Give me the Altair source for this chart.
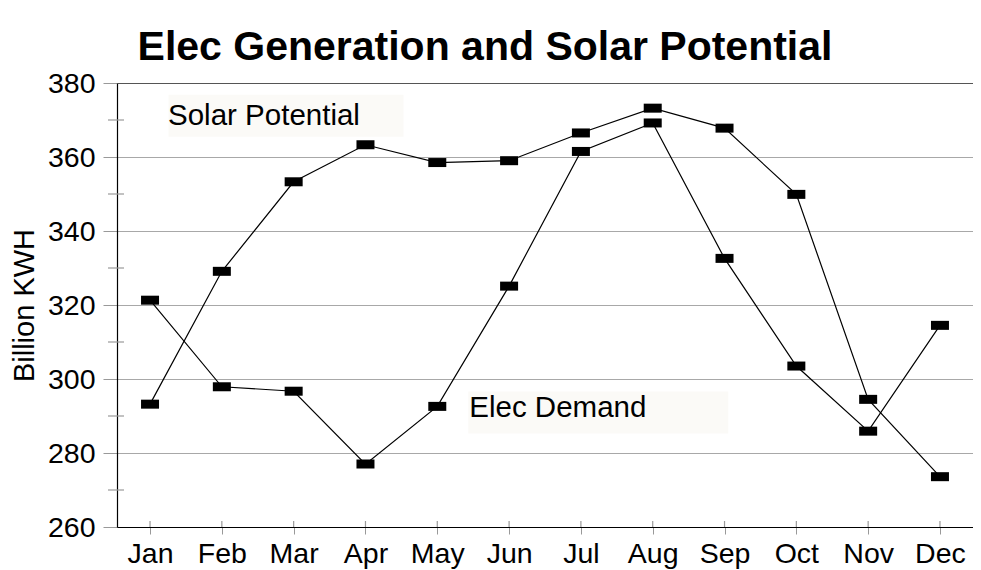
import altair as alt
import pandas as pd

months = ["Jan", "Feb", "Mar", "Apr", "May", "Jun", "Jul", "Aug", "Sep", "Oct", "Nov", "Dec"]
solar_potential = [293.2, 329.1, 353.3, 363.3, 358.5, 359.0, 366.5, 373.2, 367.8, 349.9, 294.5, 273.6]
elec_demand = [321.3, 297.9, 296.7, 277.0, 292.6, 325.1, 361.5, 369.2, 332.6, 303.5, 285.9, 314.5]

y_major = [260, 280, 300, 320, 340, 360, 380]
y_minor = [270, 290, 310, 330, 350, 370]

label_names = ["Solar Potential", "Elec Demand"]
label_months = ["Jan", "May"]
label_values = [368.7, 289.6]

FONT = "Liberation Sans, Arial, sans-serif"

rows = []
for m, s, d in zip(months, solar_potential, elec_demand):
    rows.append({"month": m, "series": "Solar Potential", "value": s})
    rows.append({"month": m, "series": "Elec Demand", "value": d})
df = pd.DataFrame(rows)

W, H = 856, 444
xscale = alt.Scale(type="point", domain=months, padding=0.46)
yscale = alt.Scale(domain=[260, 380], nice=False, zero=False)

x_enc = alt.X(
    "month:N", sort=months, scale=xscale,
    axis=alt.Axis(
        title=None, labelFont=FONT, labelFontSize=28.5, labelColor="black",
        labelAngle=0, labelAlign="center", labelPadding=19, tickSize=7, tickColor="#999999",
        domainColor="black", domainWidth=1.2, grid=False,
    ),
)
y_enc = alt.Y(
    "value:Q", scale=yscale,
    axis=alt.Axis(
        title="Billion KWH", titleFont=FONT, titleFontSize=29, titleFontWeight="normal",
        titleColor="black", titlePadding=8,
        values=y_major, labelFont=FONT, labelFontSize=28.5, labelColor="black",
        labelPadding=8, tickSize=14, tickColor="#999999",
        domainColor="black", domainWidth=1.2,
        grid=True,
        gridColor={"condition": {"test": "datum.value === 380", "value": "#555555"}, "value": "#a8a8a8"},
        gridWidth=1.2,
    ),
)

base = alt.Chart(df)
lines = base.mark_line(color="black", strokeWidth=1.2).encode(x=x_enc, y=y_enc, detail="series:N")
markers = base.mark_tick(color="black", size=18, thickness=9, opacity=1).encode(
    x=alt.X("month:N", sort=months, scale=xscale), y=alt.Y("value:Q", scale=yscale), detail="series:N"
)

minor_df = pd.DataFrame({"v": y_minor})
minor_ticks = alt.Chart(minor_df).mark_rule(color="#999999", strokeWidth=1.2).encode(
    y=alt.Y("v:Q", scale=yscale), x=alt.value(-9), x2=alt.value(7)
)

xt_df = pd.DataFrame({"month": months})
x_inner_ticks = alt.Chart(xt_df).mark_rule(color="#999999", strokeWidth=1.2).encode(
    x=alt.X("month:N", sort=months, scale=xscale), y=alt.value(H - 6), y2=alt.value(H)
)

lab_df = pd.DataFrame({"label": label_names, "month": label_months, "value": label_values})

bg1 = alt.Chart(lab_df.iloc[[0]]).mark_rect(color="#fbfaf7", width=235, height=42, xOffset=136, yOffset=-9).encode(
    x=alt.X("month:N", sort=months, scale=xscale), y=alt.Y("value:Q", scale=yscale)
)
bg2 = alt.Chart(lab_df.iloc[[1]]).mark_rect(color="#fbfaf7", width=260, height=42, xOffset=161, yOffset=-5).encode(
    x=alt.X("month:N", sort=months, scale=xscale), y=alt.Y("value:Q", scale=yscale)
)
txt1 = alt.Chart(lab_df.iloc[[0]]).mark_text(
    align="left", baseline="alphabetic", dx=18, font=FONT, fontSize=29.5, color="black"
).encode(x=alt.X("month:N", sort=months, scale=xscale), y=alt.Y("value:Q", scale=yscale), text="label:N")
txt2 = alt.Chart(lab_df.iloc[[1]]).mark_text(
    align="left", baseline="alphabetic", dx=32, font=FONT, fontSize=29.5, color="black"
).encode(x=alt.X("month:N", sort=months, scale=xscale), y=alt.Y("value:Q", scale=yscale), text="label:N")

chart = alt.layer(bg1, bg2, txt1, txt2, minor_ticks, x_inner_ticks, lines, markers).properties(
    width=W, height=H,
    autosize=alt.AutoSizeParams(type="none"),
    padding={"left": 109, "top": 75, "right": 0, "bottom": 44},
    title=alt.TitleParams(
        "Elec Generation and Solar Potential",
        font=FONT, fontSize=41, fontWeight="bold", color="black", anchor="middle", dx=-60,
        offset=0,
    ),
).configure(background="white", view=alt.ViewConfig(stroke=None))

chart.save("out.html", embed_options={"renderer": "svg", "actions": False})
